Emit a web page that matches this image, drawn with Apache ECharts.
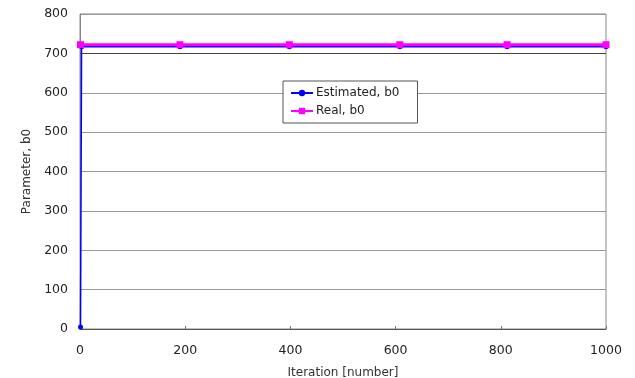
<!DOCTYPE html>
<html><head><meta charset="utf-8">
<script src="https://cdn.jsdelivr.net/npm/echarts@6/dist/echarts.min.js"></script>
<style>html,body{margin:0;padding:0;background:#fff}#c{width:635px;height:378px}</style>
</head><body><div id="c"></div>
<script>
const estIter = [1, 3, 190, 398, 608, 812, 1000];
const estVal  = [5, 717, 717, 717, 717, 717, 717];
const realIter = [1, 190, 398, 608, 812, 1000];
const realVal  = [722, 722, 722, 722, 722, 722];
const xTicks = [0, 200, 400, 600, 800, 1000];
const yTicks = [0, 100, 200, 300, 400, 500, 600, 700, 800];

const font = 'DejaVu Sans, Verdana, sans-serif';
const chart = echarts.init(document.getElementById('c'));
chart.setOption({
  animation: false,
  backgroundColor: '#fff',
  grid: {left: 80, right: 29, top: 14, bottom: 49, show: true, borderColor: '#888', borderWidth: 1,
    containLabel: false, outerBoundsMode: 'none'},
  xAxis: {
    type: 'value', min: 0, max: 1000, interval: 200,
    name: 'Iteration [number]', nameLocation: 'middle', nameGap: 38,
    nameTextStyle: {color: '#333', fontSize: 12, fontFamily: font},
    axisLine: {lineStyle: {color: '#555'}},
    axisTick: {show: true, inside: true, length: 3, lineStyle: {color: '#777'}},
    axisLabel: {color: '#222', fontSize: 12.5, fontFamily: font, margin: 15,
      formatter: v => String(v)},
    splitLine: {show: false}
  },
  yAxis: {
    type: 'value', min: 0, max: 800, interval: 100,
    name: 'Parameter, b0', nameLocation: 'middle', nameGap: 44,
    nameTextStyle: {color: '#333', fontSize: 12, fontFamily: font},
    axisLine: {show: true, lineStyle: {color: '#888'}},
    axisTick: {show: false},
    axisLabel: {color: '#222', fontSize: 12.5, fontFamily: font, margin: 12},
    splitLine: {show: true, lineStyle: {color: '#999', width: 1}}
  },
  legend: {
    orient: 'vertical', left: 283, top: 81, itemGap: 6,
    itemWidth: 22, itemHeight: 8,
    backgroundColor: '#fff', borderColor: '#555', borderWidth: 1,
    padding: [6, 18, 6, 7],
    textStyle: {color: '#222', fontSize: 12, fontFamily: font, padding: [0,0,0,-2]},
    data: ['Estimated, b0', 'Real, b0']
  },
  series: [
    {
      name: 'Estimated, b0', type: 'line',
      data: estIter.map((x, i) => [x, estVal[i]]),
      symbol: 'circle', symbolSize: 5, showAllSymbol: true,
      lineStyle: {color: '#0000ff', width: 1.5},
      itemStyle: {color: '#0000ff'},
      z: 2,
      markLine: {
        silent: true, symbol: 'none', label: {show: false},
        lineStyle: {color: '#444', width: 1, type: 'solid'},
        data: [{yAxis: 700}]
      }
    },
    {
      name: 'Real, b0', type: 'line',
      data: realIter.map((x, i) => [x, realVal[i]]),
      symbol: 'rect', symbolSize: 7, showAllSymbol: true,
      lineStyle: {color: '#ff00ff', width: 3},
      itemStyle: {color: '#ff00ff'},
      z: 3
    }
  ]
});
</script></body></html>
